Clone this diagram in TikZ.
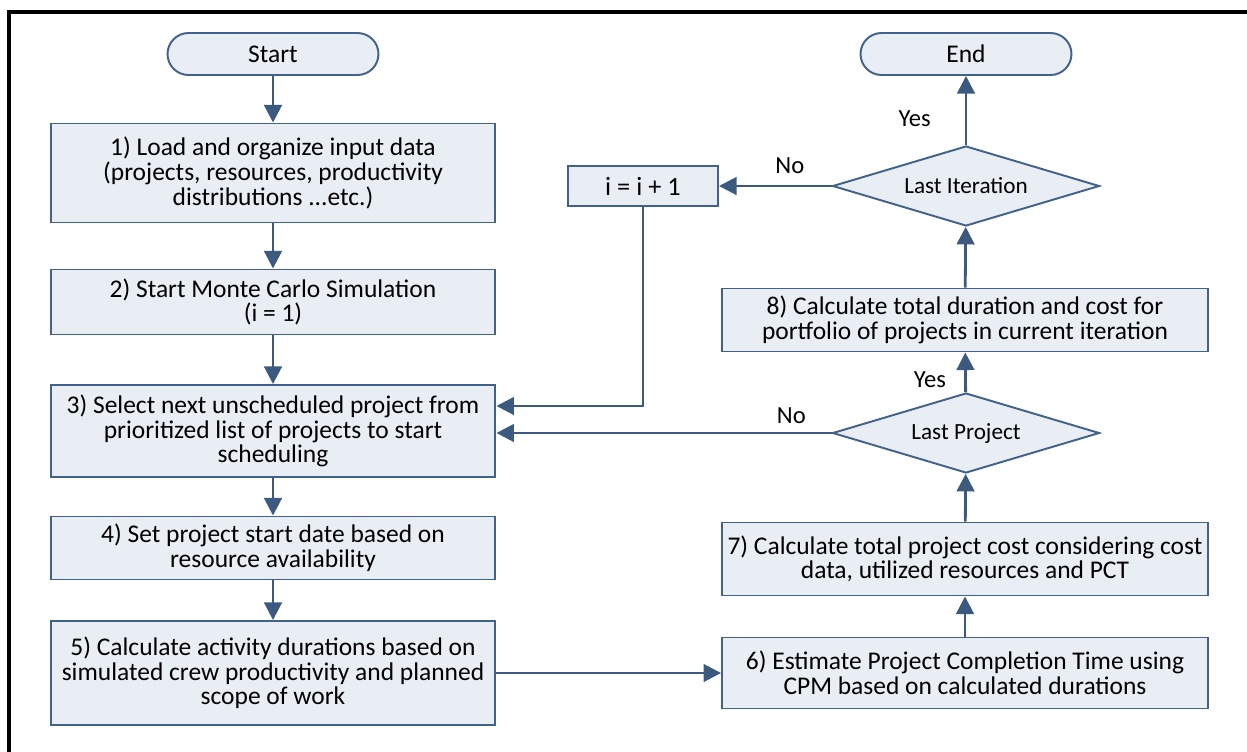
\documentclass[tikz,border=0pt]{standalone}
\usepackage{fontspec}
\setmainfont{Carlito}
\usetikzlibrary{shapes.geometric,arrows.meta}
\definecolor{boxline}{HTML}{41628A}
\definecolor{boxfill}{HTML}{E9EDF4}
\definecolor{arrowcol}{HTML}{3C5A80}
\newcommand{\boxfont}{\fontsize{14.5}{14}\selectfont\lineskiplimit=-5pt\relax}

\begin{document}
\begin{tikzpicture}[x=0.02cm, y=-0.02cm,
  proc/.style={draw=boxline, fill=boxfill, line width=1.1pt, align=center, inner sep=0pt,
    font=\boxfont},
  term/.style={proc, minimum width=4.22cm, minimum height=0.84cm, rounded corners=0.42cm},
  decision/.style={diamond, draw=boxline, fill=boxfill, line width=1.1pt, inner sep=0pt, aspect=3.3,
    minimum width=5.34cm, minimum height=1.6cm, font=\fontsize{13.2}{15}\selectfont},
  arr/.style={draw=arrowcol, line width=1.6pt, -{Triangle[length=10pt,width=10pt]}},
  lbl/.style={font=\fontsize{14}{16}\selectfont}]
  \useasboundingbox (0,0) rectangle (1247,751);
  \draw[line width=2.1pt] (9,770) -- (9,12) -- (1256,12) -- (1256,770);

  % Nodes
  \node[term] (start) at (273,54) {Start};
  \node[proc, minimum width=8.9cm, minimum height=1.98cm] (b1) at (273,173)
    {1) Load and organize input data\\(projects, resources, productivity\\distributions ...etc.)};
  \node[proc, minimum width=8.9cm, minimum height=1.3cm] (b2) at (273,302)
    {2) Start Monte Carlo Simulation\\(i = 1)};
  \node[proc, minimum width=8.9cm, minimum height=1.84cm] (b3) at (273,431)
    {3) Select next unscheduled project from\\prioritized list of projects to start\\scheduling};
  \node[proc, minimum width=8.9cm, minimum height=1.26cm] (b4) at (273,548)
    {4) Set project start date based on\\resource availability};
  \node[proc, minimum width=8.9cm, minimum height=2.08cm] (b5) at (273,673)
    {5) Calculate activity durations based on\\simulated crew productivity and planned\\scope of work};
  \node[proc, minimum width=9.72cm, minimum height=1.42cm] (b6) at (965,673)
    {6) Estimate Project Completion Time using\\CPM based on calculated durations};
  \node[proc, minimum width=9.72cm, minimum height=1.46cm] (b7) at (965,559)
    {7) Calculate total project cost considering cost\\data, utilized resources and PCT};
  \node[decision] (lastproj) at (966,433) {Last Project};
  \node[proc, minimum width=9.72cm, minimum height=1.26cm] (b8) at (965,320)
    {8) Calculate total duration and cost for\\portfolio of projects in current iteration};
  \node[decision] (lastiter) at (966,186) {Last Iteration};
  \node[term] (end) at (966,54) {End};
  \node[proc, minimum width=3cm, minimum height=0.8cm, font=\fontsize{15}{16}\selectfont] (inc) at (643,186) {i = i + 1};

  % Left column
  \draw[arr] (start) -- (b1);
  \draw[arr] (b1) -- (b2);
  \draw[arr] (b2) -- (b3);
  \draw[arr] (b3) -- (b4);
  \draw[arr] (b4) -- (b5);
  \draw[arr] (b5) -- (b6);

  % Right column
  \draw[arr] (b6) -- (b7);
  \draw[arr] (b7) -- (lastproj);
  \draw[arr] (lastproj) -- node[lbl, pos=0.32, left=7pt] {Yes} (b8);
  \draw[arr] (b8) -- (lastiter);
  \draw[arr] (lastiter) -- node[lbl, pos=0.38, left=16pt] {Yes} (end);

  % Loops back
  \draw[arr] (lastiter) -- node[lbl, pos=0.37, above=3pt] {No} (inc);
  \draw[arr] (inc) |- ([yshift=0.5cm]b3.east);
  \draw[arr] (lastproj.west) -- node[lbl, pos=0.12, above=1pt] {No} (lastproj.west -| b3.east);
\end{tikzpicture}
\end{document}
